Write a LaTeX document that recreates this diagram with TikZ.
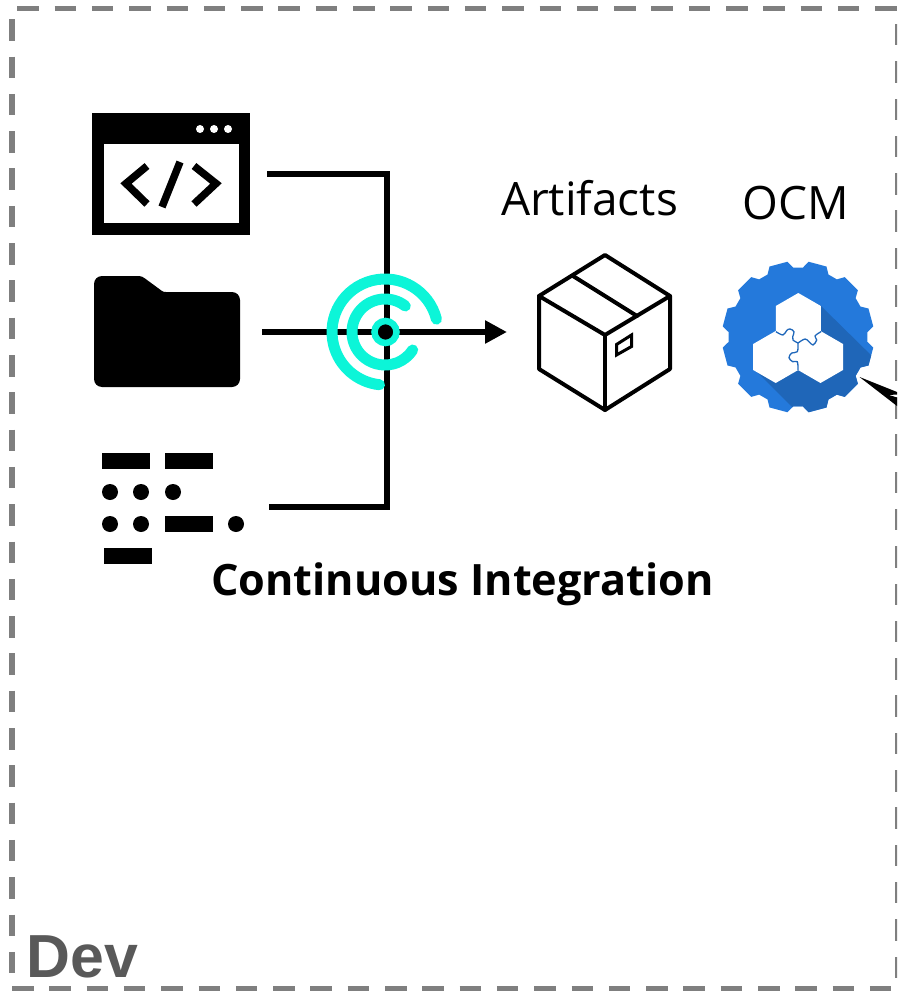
\documentclass[tikz,border=0pt]{standalone}
\usepackage{fontspec}
\setmainfont{Open Sans}
\newfontfamily\devfont{Liberation Sans}
\usetikzlibrary{arrows.meta}
\definecolor{framegray}{HTML}{7F7F7F}
\definecolor{devgray}{HTML}{595959}
\definecolor{teal}{HTML}{0CF5D8}
\definecolor{ocmblue}{HTML}{2479DB}
\definecolor{ocmdark}{HTML}{1F66B8}
\tikzset{
  framedash/.style={draw=framegray,line width=5.5pt,dash pattern=on 21.5pt off 15.8pt},
  conn/.style={draw=black,line width=6.5pt},
  iconbox/.style={inner sep=0pt,outer sep=0pt,draw=none},
  barmark/.style={fill=black},
  ring/.style={draw=teal,line width=11pt,line cap=round},
  boxline/.style={draw=black,line width=4pt,line join=round,line cap=round},
  seam/.style={draw=ocmblue!85!black,line width=1.3pt},
  lab/.style={inner sep=0pt,outer sep=0pt,anchor=base},
}
\begin{document}
\begin{tikzpicture}[x=1pt,y=-1pt]
\useasboundingbox (0,0) rectangle (897,992);
\clip (0,0) rectangle (897,992);
% frame
\draw[framedash] (17.3,8.5) -- (897,8.5);
\draw[framedash] (12,988.5) -- (897,988.5);
\draw[framedash] (12,19.3) -- (12,985);
\draw[framedash] (897.5,24) -- (897.5,985);
% icon anchors
\node[iconbox,minimum width=158pt,minimum height=122pt] (code) at (171,174) {};
\node[iconbox,minimum width=146pt,minimum height=111pt] (folder) at (167,332) {};
\node[iconbox,minimum width=142pt,minimum height=111pt] (chart) at (173,507) {};
\node[iconbox,minimum width=132pt,minimum height=155pt] (box) at (605,332) {};
\coordinate (hub) at (387,332);
% connectors
\draw[conn,shorten <=17pt] (code.east) -| (hub);
\draw[conn,shorten <=25pt] (chart.east) -| (hub);
\draw[conn,-{Triangle[length=22pt,width=22pt]},shorten <=22pt,shorten >=32pt] (folder.east) -- (box.west);
% code window
\fill (92,113) rectangle (250,235);
\fill[white] (103.5,144) rectangle (238.5,223.5);
\foreach \x in {200,214,228} \fill[white] (\x,129) circle (4);
\draw[line width=7.5pt,line join=miter] (147,166) -- (126,183.5) -- (147,204);
\draw[line width=7.5pt] (180,162) -- (162,207);
\draw[line width=7.5pt,line join=miter] (194,166) -- (216,183.5) -- (194,204);
% folder
\fill (102,387) arc (90:180:8) -- (94,284) arc (180:270:8) -- (139,276)
  .. controls (141,276) and (143,277) .. (145,278.5) -- (162,291) .. controls (163,291.7) and (164,292) .. (166,292)
  -- (232,292) arc (270:360:8) -- (240,379) arc (0:90:8) -- cycle;
% bars and dots
\foreach \xa/\ya in {102/453,165/453,165/516,104/548}
  \fill[barmark] (\xa,\ya) rectangle (\xa+48,\ya+16);
\foreach \x/\y in {110/492,141/492,173/492,110/524,141/524,236/524}
  \fill[barmark] (\x,\y) circle (8);
% hub logo
\fill (385.5,332) circle (9);
\draw[ring] (385,332) ++(-14:53) arc (-14:-264:53);
\draw[ring] (385,332) ++(-52:33) arc (-52:-327:33);
\draw[teal,line width=6.5pt] (385.5,332) circle (11);
% box
\draw[boxline] (605,255) -- (670,296) -- (670,369) -- (605,410) -- (539,369) -- (539,296) -- cycle;
\draw[boxline] (539,296) -- (605,335) -- (670,296);
\draw[boxline] (605,335) -- (605,410);
\draw[boxline] (573,276) -- (637,316);
\draw[draw=black,line width=3pt,miter limit=10] (616.5,344.5) -- (631.5,335) -- (631.5,346.5) -- (616.5,355) -- cycle;
% OCM gear
\begin{scope}[shift={(798,337)}]
\path[fill=ocmblue,save path=\gearpath] (4:69.5)
  \foreach \a in {15,45,...,345} { -- (\a-11:69.5) -- (\a-7:76) -- (\a+7:76) -- (\a+11:69.5) } -- cycle;
\begin{scope}
\clip[use path=\gearpath];
\fill[ocmdark] (820-798,305-337) -- (880-798,364-337) -- (880-798,430-337) -- (815-798,430-337) -- (753-798,368-337) -- cycle;
\end{scope}
\end{scope}
\foreach \cx/\cy in {798.3/319, 775.7/357, 820.5/357}
  \fill[white] (\cx,\cy-26) -- (\cx+22.5,\cy-13) -- (\cx+22.5,\cy+13) -- (\cx,\cy+26) -- (\cx-22.5,\cy+13) -- (\cx-22.5,\cy-13) -- cycle;
\draw[seam] plot[smooth,tension=0.6] coordinates {(776,331.7) (783,335) (786.7,330.5) (790,329) (794,331.7) (792.7,336.7) (793,340) (798,343)};
\draw[seam] plot[smooth,tension=0.6] coordinates {(798,343) (805,339) (809,341.7) (813,345) (816.7,340) (815,336) (821,331.7)};
\draw[seam] plot[smooth,tension=0.6] coordinates {(798,343) (797.3,351.7) (791.7,353) (789,357.7) (792.7,361.7) (797.3,361.7) (798,370)};
% pointer
\coordinate (ptrtip) at (859.5,377);
\fill (ptrtip) -- (897,392) -- (897,394.5) -- (889,395) -- (897,397.5) -- (897,406) -- cycle;
% labels
\node[lab,font=\fontsize{46}{46}\selectfont] (artifacts) at (589.5,215) {Artifacts};
\node[lab,font=\fontsize{46}{46}\selectfont] (ocm) at (796,220) {OCM};
\node[lab,font=\fontsize{43.2}{43.2}\selectfont\bfseries] (ci) at (462.5,595) {Continuous Integration};
\node[lab,font=\fontsize{60.8}{60.8}\selectfont\devfont\bfseries,text=devgray] (dev) at (82.5,977) {Dev};
\end{tikzpicture}
\end{document}
